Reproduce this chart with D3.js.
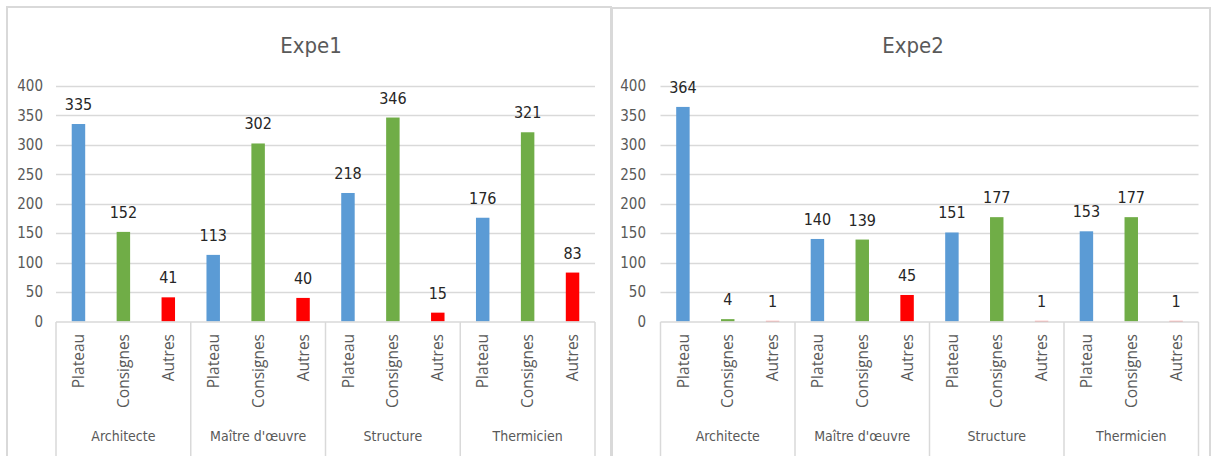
<!DOCTYPE html>
<html><head><meta charset="utf-8">
<script src="https://cdn.jsdelivr.net/npm/d3@7"></script>
<style>
html,body{margin:0;padding:0;background:#fff;}
svg{display:block;}
</style></head>
<body>
<svg id="c" width="1212" height="456"></svg>
<script>
const groups = ["Architecte", "Maître d'œuvre", "Structure", "Thermicien"];
const series = ["Plateau", "Consignes", "Autres"];
const seriesColors = ["#5b9bd5", "#70ad47", "#ff0000"];
const yTicks = [0, 50, 100, 150, 200, 250, 300, 350, 400];

const expe1Plateau   = [335, 113, 218, 176];
const expe1Consignes = [152, 302, 346, 321];
const expe1Autres    = [41, 40, 15, 83];

const expe2Plateau   = [364, 140, 151, 153];
const expe2Consignes = [4, 139, 177, 177];
const expe2Autres    = [1, 45, 1, 1];

const panels = [
  {title: "Expe1", data: [expe1Plateau, expe1Consignes, expe1Autres],
   box: [7, 7, 611], plot: [56, 595], labelX: 43},
  {title: "Expe2", data: [expe2Plateau, expe2Consignes, expe2Autres],
   box: [612, 8, 1210], plot: [660.5, 1198.5], labelX: 646}
];

const svg = d3.select("#c");
const narrow = "'Liberation Sans Narrow','Arial Narrow','DejaVu Sans Condensed',sans-serif";
const y = d3.scaleLinear().domain([0, 400]).range([321.5, 85.7]);

panels.forEach(p => {
  const g = svg.append("g");
  g.append("path")
    .attr("d", `M${p.box[0]},460 V${p.box[1]} H${p.box[2]} V460`)
    .attr("fill", "none").attr("stroke", "#d9d9d9").attr("stroke-width", 2);

  g.append("text")
    .attr("x", (p.box[0] + p.box[2]) / 2 + 2).attr("y", 53)
    .attr("text-anchor", "middle")
    .attr("font-family", narrow).attr("font-size", 22)
    .attr("fill", "#595959").text(p.title);

  const x0 = d3.scaleBand().domain(groups).range(p.plot).padding(0);
  const x1 = d3.scaleBand().domain(series).range([0, x0.bandwidth()])
    .paddingInner(0.7).paddingOuter(0.35);

  g.append("g").selectAll("line").data(yTicks.filter(t => t > 0)).join("line")
    .attr("x1", p.plot[0]).attr("x2", p.plot[1])
    .attr("y1", d => Math.round(y(d)) + 0.5).attr("y2", d => Math.round(y(d)) + 0.5)
    .attr("stroke", "#d9d9d9").attr("stroke-width", 1.5);

  g.append("g").selectAll("text").data(yTicks).join("text")
    .attr("x", p.labelX).attr("y", d => y(d))
    .attr("dy", "0.36em").attr("text-anchor", "end")
    .attr("font-family", narrow).attr("font-size", 15)
    .attr("fill", "#595959").text(d => d);

  series.forEach((s, si) => {
    g.append("g").selectAll("rect").data(p.data[si]).join("rect")
      .attr("x", (d, i) => x0(groups[i]) + x1(s))
      .attr("width", x1.bandwidth())
      .attr("y", d => y(d))
      .attr("height", d => y(0) - y(d))
      .attr("fill", seriesColors[si]);
    g.append("g").selectAll("text").data(p.data[si]).join("text")
      .attr("x", (d, i) => x0(groups[i]) + x1(s) + x1.bandwidth() / 2)
      .attr("y", d => y(d) - 14)
      .attr("text-anchor", "middle")
      .attr("font-family", narrow).attr("font-size", 16)
      .attr("fill", "#262626").text(d => d);
  });

  g.append("line").attr("x1", p.plot[0]).attr("x2", p.plot[1])
    .attr("y1", 322).attr("y2", 322)
    .attr("stroke", "#d9d9d9").attr("stroke-width", 1.5);

  const seps = groups.map(gr => x0(gr)).concat([p.plot[1]]);
  g.append("g").selectAll("line").data(seps).join("line")
    .attr("x1", d => d).attr("x2", d => d)
    .attr("y1", 322).attr("y2", 456)
    .attr("stroke", "#d9d9d9").attr("stroke-width", 1.5);

  groups.forEach(gr => {
    series.forEach(s => {
      const cx = x0(gr) + x1(s) + x1.bandwidth() / 2;
      g.append("text")
        .attr("transform", `translate(${cx},334) rotate(-90)`)
        .attr("dy", "0.36em").attr("text-anchor", "end")
        .attr("font-family", "'Open Sans','Noto Sans',sans-serif").attr("font-size", 15.5)
        .attr("fill", "#595959").text(s);
    });
    g.append("text")
      .attr("x", x0(gr) + x0.bandwidth() / 2).attr("y", 441)
      .attr("text-anchor", "middle")
      .attr("font-family", narrow).attr("font-size", 14)
      .attr("fill", "#595959").text(gr);
  });
});
</script>
</body></html>
